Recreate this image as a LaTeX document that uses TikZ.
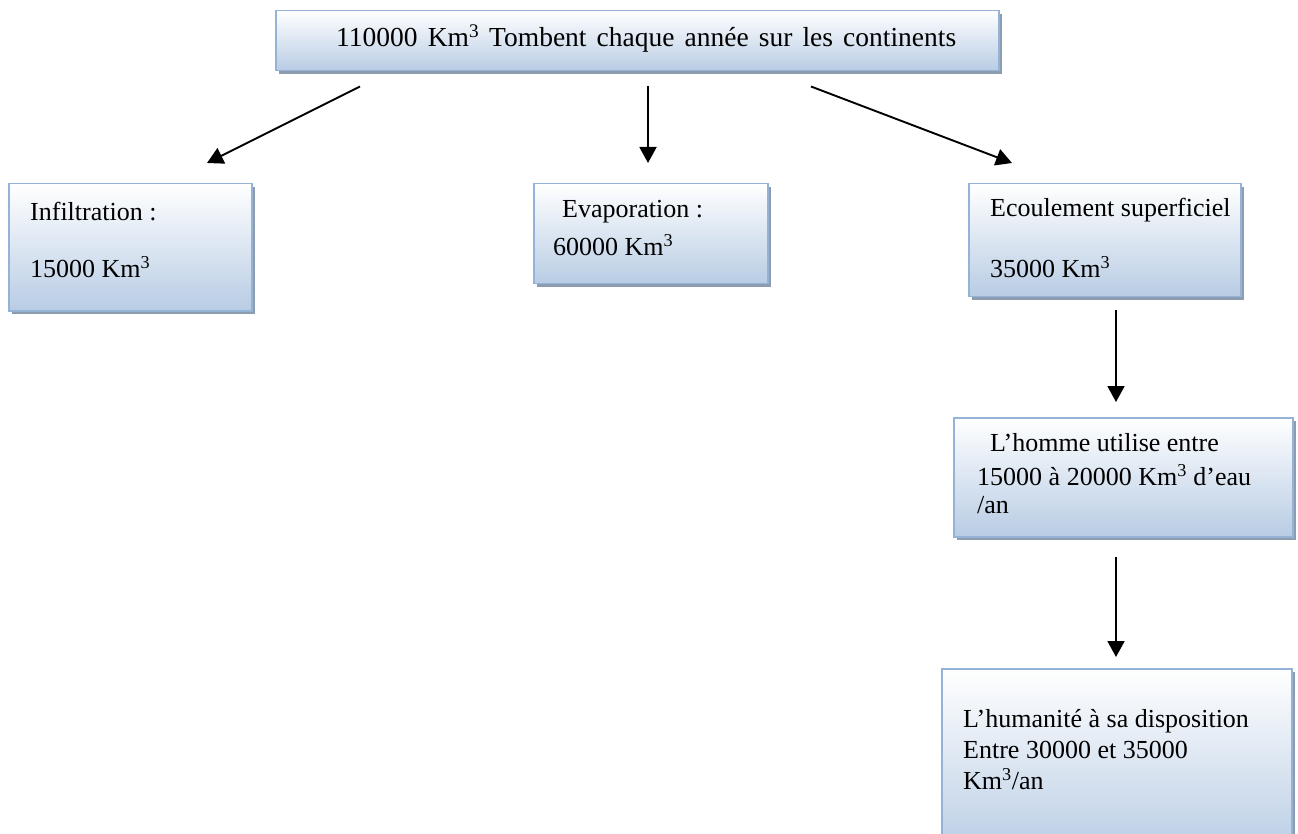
\documentclass[tikz,border=0pt]{standalone}
\usepackage{fontspec}
\setmainfont{Liberation Serif}
\usetikzlibrary{shadows,arrows.meta,calc}
\definecolor{boxborder}{HTML}{95B3D7}
\definecolor{boxbottom}{HTML}{B8CCE4}
\definecolor{boxshadow}{HTML}{8E9CB0}
\tikzset{
  box/.style={draw=boxborder, line width=1.5pt, top color=white, bottom color=boxbottom,
    anchor=north west, inner sep=0pt,
    drop shadow={shadow xshift=3.5pt, shadow yshift=-3.5pt, fill=boxshadow, opacity=1}},
  txt/.style={anchor=west, inner sep=0pt, font=\fontsize{26}{30}\selectfont},
  arr/.style={line width=1.9pt, -{Triangle[length=16pt,width=17pt]}}
}
\newcommand{\kmc}{Km\textsuperscript{3}}
\begin{document}
\begin{tikzpicture}[x=1pt,y=-1pt]
\useasboundingbox (0,0) rectangle (1298,834);
\begin{scope}
\clip (0,0) rectangle (1298,834);
% boxes
\node[box, minimum width=723pt, minimum height=60pt] (top) at (275,10) {};
\node[box, minimum width=243pt, minimum height=127pt] (infil) at (8,183) {};
\node[box, minimum width=234pt, minimum height=100pt] (evap) at (533,183) {};
\node[box, minimum width=272pt, minimum height=113pt] (ecoul) at (968,183) {};
\node[box, minimum width=339pt, minimum height=119pt] (homme) at (953,417) {};
\node[box, minimum width=350pt, minimum height=190pt] (human) at (941,668) {};
\end{scope}
% texts
\node[txt, font=\fontsize{27.5}{30}\selectfont] (t0) at (336,39) {\makebox[620pt][s]{110000 \kmc{} Tombent chaque année sur les continents}};
\node[txt] (t1) at (30,212) {Infiltration :};
\node[txt] (t2) at (30,267) {15000 \kmc};
\node[txt] (t3) at (562,212) {Evaporation :};
\node[txt] (t4) at (553,245) {60000 \kmc};
\node[txt] (t5) at (990,210) {Ecoulement superficiel};
\node[txt] (t6) at (990,267) {35000 \kmc};
\node[txt] (t7) at (990,443) {L’homme utilise entre};
\node[txt] (t8) at (977,475) {15000 à 20000 \kmc{} d’eau};
\node[txt] (t9) at (977,505) {/an};
\node[txt] (t10) at (963,721) {L’humanité à sa disposition};
\node[txt] (t11) at (963,750) {Entre 30000 et 35000};
\node[txt] (t12) at (963,779) {\kmc/an};
% arrows
\draw[arr] ($(top.south west)+(85,15)$) -- ($(infil.north west)+(199,-20)$);
\draw[arr] ($(top.south west)+(373,15)$) -- ($(evap.north west)+(115,-20)$);
\draw[arr] ($(top.south west)+(536,15)$) -- ($(ecoul.north west)+(44,-20)$);
\draw[arr] ($(ecoul.south west)+(148,12)$) -- ($(homme.north west)+(163,-15)$);
\draw[arr] ($(homme.south west)+(163,19)$) -- ($(human.north west)+(175,-11)$);
\end{tikzpicture}
\end{document}
